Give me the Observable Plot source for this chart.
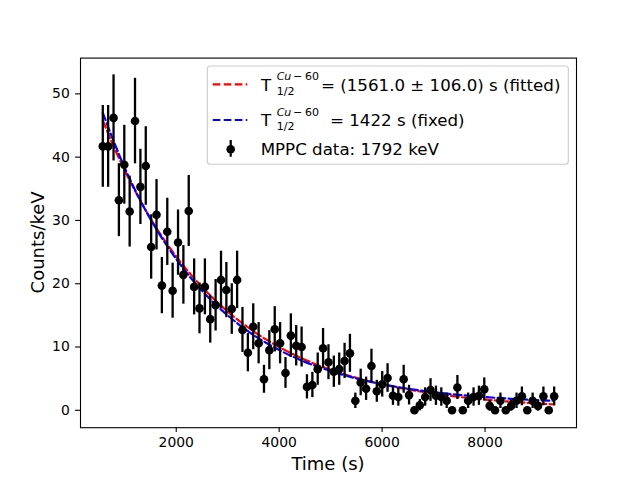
<!DOCTYPE html>
<html>
<head>
<meta charset="utf-8">
<script src="https://cdn.jsdelivr.net/npm/d3@7"></script>
<script src="https://cdn.jsdelivr.net/npm/@observablehq/plot@0.6"></script>
<style>
  html, body { margin: 0; padding: 0; background: white; }
  #chart { width: 640px; height: 480px; }
</style>
</head>
<body>
<div id="chart"></div>
<script>
// Measured data: time (s), counts/keV, uncertainty
const times = [
  573, 677, 782, 886, 991, 1095, 1199, 1304, 1408, 1513,
  1617, 1721, 1826, 1930, 2035, 2139, 2243, 2348, 2452, 2557,
  2661, 2765, 2870, 2974, 3079, 3183, 3287, 3392, 3496, 3601,
  3705, 3809, 3914, 4018, 4123, 4227, 4331, 4436, 4540, 4645,
  4749, 4853, 4958, 5062, 5167, 5271, 5375, 5480, 5584, 5689,
  5793, 5897, 6002, 6106, 6211, 6315, 6419, 6524, 6628, 6733,
  6837, 6941, 7046, 7150, 7255, 7359, 7463, 7568, 7672, 7777,
  7881, 7985, 8090, 8194, 8299, 8403, 8507, 8612, 8716, 8821,
  8925, 9029, 9134, 9238, 9343
];
const counts = [
  41.7, 41.7, 46.2, 33.2, 38.8, 31.4, 45.7, 35.3, 38.6, 25.8,
  30.9, 19.7, 28.2, 18.9, 26.5, 21.4, 31.5, 19.5, 16.1, 19.5,
  14.4, 16.6, 20.6, 19.0, 16.0, 20.6, 12.7, 9.1, 13.2, 10.6,
  4.9, 9.5, 12.8, 10.6, 5.9, 11.8, 10.2, 10.0, 3.7, 4.0,
  6.5, 9.8, 7.6, 6.1, 6.5, 7.8, 9.0, 1.5, 4.4, 3.4,
  7.0, 3.0, 4.1, 5.1, 2.3, 2.1, 4.9, 2.4, 0, 0.8,
  2.1, 3.2, 2.3, 2.1, 1.5, 0, 3.6, 0, 1.5, 2.1,
  2.3, 3.3, 0.7, 0, 1.5, 0, 0.7, 1.5, 2.2, 0,
  1.5, 0.7, 2.2, 0, 2.2
];
const errors = [
  6.46, 6.46, 6.80, 5.76, 6.23, 5.60, 6.76, 5.94, 6.21, 5.08,
  5.56, 4.44, 5.31, 4.35, 5.15, 4.63, 5.61, 4.42, 4.01, 4.42,
  3.79, 4.07, 4.54, 4.36, 4.00, 4.54, 3.56, 3.02, 3.63, 3.26,
  2.21, 3.08, 3.58, 3.26, 2.43, 3.44, 3.19, 3.16, 1.92, 2.00,
  2.55, 3.13, 2.76, 2.47, 2.55, 2.79, 3.00, 1.22, 2.10, 1.84,
  2.65, 1.73, 2.02, 2.26, 1.52, 1.45, 2.21, 1.55, 0, 0.89,
  1.45, 1.79, 1.52, 1.45, 1.22, 0, 1.90, 0, 1.22, 1.45,
  1.52, 1.82, 0.84, 0, 1.22, 0, 0.84, 1.22, 1.48, 0,
  1.22, 0.84, 1.48, 0, 1.48
];

// Fit curves
const fitTimes = [573, 800, 1000, 1250, 1500, 2000, 2500, 3000, 3500, 4000, 4500, 5000, 5500, 6000, 6500, 7000, 7500, 8000, 8500, 9000, 9343];
const fitRed   = [45.8, 41.4, 37.9, 33.9, 30.3, 24.3, 19.5, 15.6, 12.5, 10.0, 8.0, 6.4, 5.14, 4.1, 3.29, 2.64, 2.11, 1.69, 1.36, 1.09, 0.93];
const fitBlue  = [47.0, 42.2, 38.3, 34.0, 30.2, 23.9, 18.9, 15.0, 11.9, 9.53, 7.65, 6.2, 5.03, 4.13, 3.42, 2.87, 2.43, 2.09, 1.82, 1.61, 1.5];

const xTicks = [2000, 4000, 6000, 8000];
const yTicks = [0, 10, 20, 30, 40, 50];

const points = times.map((t, i) => ({t, y: counts[i], e: errors[i]}));
const redCurve = fitTimes.map((t, i) => ({t, y: fitRed[i]}));
const blueCurve = fitTimes.map((t, i) => ({t, y: fitBlue[i]}));

const FONT = "DejaVu Sans, Liberation Sans, sans-serif";

const svg = Plot.plot({
  width: 640,
  height: 480,
  marginLeft: 80,
  marginRight: 64,
  marginTop: 57.6,
  marginBottom: 52.8,
  style: {fontFamily: FONT, fontSize: "13.9px", background: "white", color: "black", overflow: "visible"},
  x: {domain: [140, 9777], label: null},
  y: {domain: [-2.75, 55.65], label: null},
  marks: [
    Plot.axisX({ticks: xTicks, tickFormat: d3.format("d"), tickSize: 4.9, tickPadding: 4.9, label: null, stroke: "black", strokeWidth: 1.1, fontSize: 13.9}),
    Plot.axisY({ticks: yTicks, tickFormat: d3.format("d"), tickSize: 4.9, tickPadding: 5.8, label: null, stroke: "black", strokeWidth: 1.1, fontSize: 13.9}),
    Plot.line(redCurve, {x: "t", y: "y", stroke: "red", strokeWidth: 2.2, strokeDasharray: "7.7,3.3", curve: "monotone-x"}),
    Plot.line(blueCurve, {x: "t", y: "y", stroke: "blue", strokeWidth: 2.2, strokeDasharray: "7.7,3.3", curve: "monotone-x"}),
    Plot.ruleX(points, {x: "t", y1: d => d.y - d.e, y2: d => d.y + d.e, stroke: "black", strokeWidth: 2.3}),
    Plot.dot(points, {x: "t", y: "y", r: 4.3, fill: "black", stroke: "none"}),
    Plot.frame({stroke: "black", strokeWidth: 1.1})
  ]
});

document.getElementById("chart").appendChild(svg);

const s = d3.select(svg);

// Axis labels
s.append("text")
  .attr("x", 328).attr("y", 469.5)
  .attr("text-anchor", "middle")
  .attr("font-family", FONT).attr("font-size", 18).attr("fill", "black")
  .text("Time (s)");
s.append("text")
  .attr("transform", "translate(44,242.4) rotate(-90)")
  .attr("text-anchor", "middle")
  .attr("font-family", FONT).attr("font-size", 18).attr("fill", "black")
  .text("Counts/keV");

// Legend
const lg = s.append("g")
  .attr("font-family", FONT).attr("fill", "black")
  .attr("text-anchor", "start");
lg.append("rect")
  .attr("x", 207.3).attr("y", 66).attr("width", 361).attr("height", 98.3)
  .attr("rx", 3).attr("ry", 3)
  .attr("fill", "white").attr("fill-opacity", 0.8)
  .attr("stroke", "#cccccc").attr("stroke-width", 1.1);

function legendLine(y, color) {
  lg.append("line")
    .attr("x1", 212.7).attr("x2", 247.3).attr("y1", y).attr("y2", y)
    .attr("stroke", color).attr("stroke-width", 2.2).attr("stroke-dasharray", "7.7,3.3");
}
function addText(x, y, size, str, italic) {
  const t = lg.append("text")
    .attr("x", x).attr("y", y)
    .attr("text-anchor", "start")
    .attr("font-size", size)
    .text(str);
  if (italic) t.attr("font-style", "italic");
  return t;
}
function halfLife(y) {
  addText(261, y, 16.67, "T");
  addText(276.7, y - 10.5, 11, "Cu", true);
  addText(293, y - 10.5, 11, "\u2212");
  addText(305, y - 10.5, 11, "60");
  addText(276.7, y + 3.8, 11, "1/2");
}

legendLine(84.3, "red");
halfLife(90.7);
addText(321, 90.7, 16.67, "= (1561.0 \u00b1 106.0) s (fitted)");

legendLine(120, "blue");
halfLife(126.4);
addText(330, 126.4, 16.67, "= 1422 s (fixed)");

lg.append("line")
  .attr("x1", 230.7).attr("x2", 230.7).attr("y1", 140).attr("y2", 156.7)
  .attr("stroke", "black").attr("stroke-width", 2.2);
lg.append("circle").attr("cx", 230.7).attr("cy", 149.3).attr("r", 4.3).attr("fill", "black");
addText(260.7, 155.4, 16.67, "MPPC data: 1792 keV");
</script>
</body>
</html>
